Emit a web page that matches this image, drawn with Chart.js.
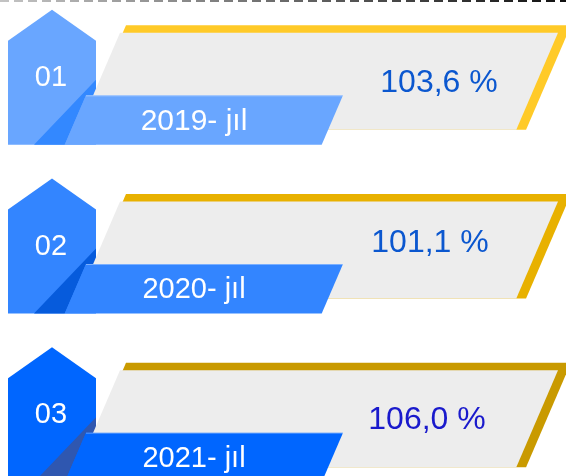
<!DOCTYPE html>
<html>
<head>
<meta charset="utf-8">
<script src="https://cdn.jsdelivr.net/npm/chart.js@4/dist/chart.umd.min.js"></script>
<style>
    html, body { margin: 0; padding: 0; background: #fff; overflow: hidden; }
    body { width: 566px; height: 476px; position: relative; }
    #wrap { position: absolute; left: 0; top: -3px; width: 566px; height: 506px; }
</style>
</head>
<body>
<div id="wrap"><canvas id="growthChart"></canvas></div>
<script>
const rowNumbers = ["01", "02", "03"];
const years = ["2019- jıl", "2020- jıl", "2021- jıl"];
const growth = [103.6, 101.1, 106.0];

const pentagonColors = ["#69a6ff", "#3385ff", "#0066ff"];
const foldColors = ["#3388ff", "#065bdc", "#2f57b0"];
const goldColors = ["#ffca28", "#e8b100", "#c99a00"];
const percentColors = ["#0b57cf", "#0b57cf", "#1a1acc"];

function formatPercent(v) {
    return v.toFixed(1).replace(".", ",") + " %";
}

function poly(ctx, pts, color) {
    ctx.beginPath();
    ctx.moveTo(pts[0][0], pts[0][1]);
    for (let i = 1; i < pts.length; i++) ctx.lineTo(pts[i][0], pts[i][1]);
    ctx.closePath();
    ctx.fillStyle = color;
    ctx.fill();
}

// Each category row is drawn as a card: numbered pentagon, grey slanted panel
// with a gold rim, and a year ribbon. The row centre comes from the y scale.
const cardPlugin = {
    id: "cards",
    afterDatasetsDraw(chart) {
        const ctx = chart.ctx;
        const yScale = chart.scales.y;
        const area = chart.chartArea;
        const s = 0.43; // slant of the panels (px left per px down)
        ctx.save();

        // dashed rule along the top, fading from grey to black
        const grad = ctx.createLinearGradient(area.left, 0, area.right, 0);
        grad.addColorStop(0, "#c4c4c4");
        grad.addColorStop(1, "#111111");
        ctx.strokeStyle = grad;
        ctx.lineWidth = 2;
        ctx.setLineDash([9, 5]);
        ctx.beginPath();
        ctx.moveTo(area.left, area.top + 4);
        ctx.lineTo(area.right, area.top + 4);
        ctx.stroke();
        ctx.setLineDash([]);

        // text placement nudges per row, as in the source slide
        const pctX = [439, 430, 427];
        const pctDy = [1.5, -7, 2];
        const yearSize = [30, 29, 29];

        growth.forEach((value, i) => {
            const cy = yScale.getPixelForValue(i);
            const gTop = cy - 48.5, gBot = cy + 48.5;
            const rTop = cy + 14, rBot = cy + 63.5;

            // pentagon badge
            poly(ctx, [[8, cy - 40.5], [52, cy - 71.5], [96, cy - 40.5], [96, rBot], [8, rBot]], pentagonColors[i]);
            // fold shading
            poly(ctx, [[96, cy - 1.5], [96, rTop], [86, rTop], [86 - s * (rBot - rTop), rBot], [34, rBot]], foldColors[i]);

            // gold rim, then grey panel on top of it
            const oTop = cy - 56;
            poly(ctx, [[126, oTop], [571, oTop], [571 - s * (gBot - oTop), gBot], [126 - s * (gBot - oTop), gBot]], goldColors[i]);
            poly(ctx, [[120, gTop], [558, gTop], [558 - s * (gBot - gTop), gBot], [120 - s * (gBot - gTop), gBot]], "#ededed");

            // year ribbon
            const rh = rBot - rTop;
            poly(ctx, [[86, rTop], [343, rTop], [343 - s * rh, rBot], [86 - s * rh, rBot]], pentagonColors[i]);
            ctx.fillStyle = "rgba(255,255,255,0.35)";
            ctx.fillRect(86, rTop, 257, 1);

            ctx.textAlign = "center";
            ctx.textBaseline = "middle";
            ctx.fillStyle = "#ffffff";
            ctx.font = "29px 'Liberation Sans', Arial, sans-serif";
            ctx.fillText(rowNumbers[i], 51, cy - 3.5);
            ctx.font = yearSize[i] + "px 'Liberation Sans', Arial, sans-serif";
            ctx.fillText(years[i], 194, cy + 40);

            ctx.fillStyle = percentColors[i];
            ctx.font = "32px 'Liberation Sans', Arial, sans-serif";
            ctx.fillText(formatPercent(value), pctX[i], cy + pctDy[i]);
        });
        ctx.restore();
    },
};

new Chart(document.getElementById("growthChart"), {
    type: "bar",
    data: {
        labels: years,
        datasets: [{ data: growth, backgroundColor: "rgba(0,0,0,0)" }],
    },
    options: {
        indexAxis: "y",
        responsive: true,
        maintainAspectRatio: false,
        animation: false,
        layout: { padding: 0 },
        plugins: { legend: { display: false }, tooltip: { enabled: false } },
        scales: {
            x: { display: false, min: 0, max: 120 },
            y: { display: false },
        },
    },
    plugins: [cardPlugin],
});
</script>
</body>
</html>
